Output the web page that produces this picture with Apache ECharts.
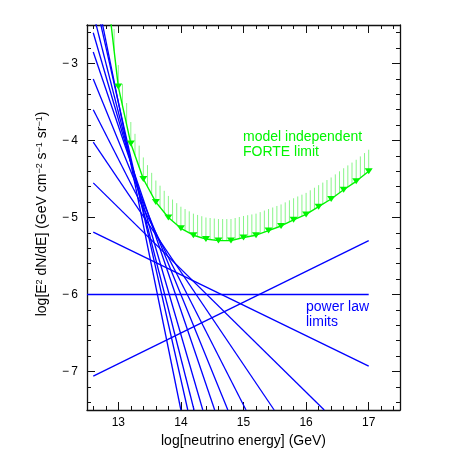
<!DOCTYPE html>
<html>
<head>
<meta charset="utf-8">
<script src="https://cdn.jsdelivr.net/npm/echarts@6/dist/echarts.min.js"></script>
<style>
  html, body { margin: 0; padding: 0; background: #fff; }
  #chart { width: 467px; height: 467px; }
</style>
</head>
<body>
<div id="chart"></div>
<script>
// FORTE model independent limit (marker points)
const forteX = [12.8, 13.0, 13.2, 13.4, 13.6, 13.8, 14.0, 14.2, 14.4, 14.6, 14.8,
                15.0, 15.2, 15.4, 15.6, 15.8, 16.0, 16.2, 16.4, 16.6, 16.8, 17.0];
const forteY = [-1.90, -3.30, -4.04, -4.50, -4.80, -5.00, -5.14, -5.23, -5.28, -5.30, -5.30,
                -5.26, -5.23, -5.17, -5.11, -5.03, -4.96, -4.86, -4.76, -4.64, -4.53, -4.40];

// power law limits: one straight line each, start -> end
const lawX0 = [12.6, 12.6, 12.6, 12.6, 12.6, 12.6, 12.6, 12.6, 12.6, 12.6, 12.5, 12.6];
const lawY0 = [-1.90, -2.06, -2.35, -2.60, -2.85, -3.20, -3.60, -4.02, -4.55, -5.19, -6.00, -7.06];
const lawX1 = [14.00, 14.11, 14.21, 14.35, 14.54, 14.75, 15.04, 15.49, 16.29, 17.0, 17.0, 17.0];
const lawY1 = [-7.50, -7.50, -7.50, -7.50, -7.50, -7.50, -7.50, -7.50, -7.50, -6.93, -6.00, -5.30];

// ticks
const xMajor = [13, 14, 15, 16, 17];
const yMajor = [-7, -6, -5, -4, -3];
const xMinor = [];
for (let v = 12.6; v < 17.45; v += 0.2) {
  const r = Math.round(v * 10) / 10;
  if (Math.abs(r - Math.round(r)) > 0.01) xMinor.push(r);
}
const yMinor = [];
for (let v = -7.4; v < -2.55; v += 0.2) {
  const r = Math.round(v * 10) / 10;
  if (Math.abs(r - Math.round(r)) > 0.01) yMinor.push(r);
}

const FONT = '"Liberation Sans", Arial, sans-serif';
const BLUE = '#0000ff';
const GREEN = '#00f500';
const HATCH = '#88f588';
const hatchLen = 0.28;
const hatchPerStep = 3;

const chart = echarts.init(document.getElementById('chart'), null, { renderer: 'canvas' });

// "-3" -> "− 3"
const minus = v => String(v).replace('-', '\u2212\u2009');

// one frame axis (major or minor ticks on one side)
function frameAxis(dim, position, ticks, tickLen, withLine, withLabels, extra) {
  const isX = dim === 'x';
  return Object.assign({
    type: 'value',
    position: position,
    min: isX ? 12.5 : -7.5,
    max: isX ? 17.5 : -2.5,
    axisLine: { show: withLine, onZero: false, lineStyle: { color: '#111', width: 1.3 } },
    axisTick: { show: true, inside: true, length: tickLen, customValues: ticks,
                lineStyle: { color: '#111', width: 1 } },
    axisLabel: { show: withLabels, customValues: ticks, color: '#000', fontSize: 12,
                 fontFamily: FONT, margin: isX ? 7 : 9, formatter: minus },
    splitLine: { show: false }
  }, extra || {});
}

const series = [];

// hatching above the FORTE limit
series.push({
  type: 'custom',
  clip: true,
  z: 1,
  data: forteX.map((x, i) => [x, forteY[i]]),
  renderItem: function (params, api) {
    const i = params.dataIndex;
    const last = i === forteX.length - 1;
    const children = [];
    const n = last ? 1 : hatchPerStep;
    for (let k = 0; k < n; k++) {
      const t = k / hatchPerStep;
      const x = last ? forteX[i] : forteX[i] + t * (forteX[i + 1] - forteX[i]);
      const y = last ? forteY[i] : forteY[i] + t * (forteY[i + 1] - forteY[i]);
      const p0 = api.coord([x, y]);
      const p1 = api.coord([x, y + hatchLen]);
      children.push({
        type: 'line',
        shape: { x1: p0[0], y1: p0[1], x2: p1[0], y2: p1[1] },
        style: { stroke: HATCH, lineWidth: 1 }
      });
    }
    return { type: 'group', children: children };
  }
});

// power law lines
for (let i = 0; i < lawX0.length; i++) {
  series.push({
    type: 'line',
    clip: true,
    z: 2,
    symbol: 'none',
    silent: true,
    lineStyle: { color: BLUE, width: 1.3 },
    data: [[lawX0[i], lawY0[i]], [lawX1[i], lawY1[i]]]
  });
}

// FORTE limit curve with markers
series.push({
  type: 'line',
  clip: true,
  z: 3,
  symbol: 'triangle',
  symbolRotate: 180,
  symbolSize: [8, 6],
  lineStyle: { color: GREEN, width: 1.4 },
  itemStyle: { color: GREEN },
  data: forteX.map((x, i) => [x, forteY[i]])
});

chart.setOption({
  animation: false,
  backgroundColor: '#fff',
  grid: { left: 87, right: 67, top: 25, bottom: 57 },
  xAxis: [
    frameAxis('x', 'bottom', xMajor, 8, true, true, {
      name: 'log[neutrino energy] (GeV)',
      nameLocation: 'middle',
      nameGap: 22,
      nameTextStyle: { color: '#000', fontSize: 14, fontFamily: FONT }
    }),
    frameAxis('x', 'bottom', xMinor, 4, false, false),
    frameAxis('x', 'top', xMajor, 8, true, false),
    frameAxis('x', 'top', xMinor, 4, false, false)
  ],
  yAxis: [
    frameAxis('y', 'left', yMajor, 8, true, true),
    frameAxis('y', 'left', yMinor, 4, false, false),
    frameAxis('y', 'right', yMajor, 8, true, false),
    frameAxis('y', 'right', yMinor, 4, false, false)
  ],
  graphic: [
    { type: 'text', x: 42, y: 214, rotation: Math.PI / 2,
      style: {
        text: 'log[E{sup|2} dN/dE] (GeV cm{sup|\u22122} s{sup|\u22121} sr{sup|\u22121})',
        fill: '#000', font: '14px ' + FONT, align: 'center', verticalAlign: 'middle',
        rich: { sup: { fontSize: 9, fontFamily: FONT, fill: '#000', verticalAlign: 'top' } }
      } },
    { type: 'text', x: 243, y: 137, style: { text: 'model independent', fill: GREEN,
      font: '14px ' + FONT, verticalAlign: 'middle' } },
    { type: 'text', x: 243, y: 152, style: { text: 'FORTE limit', fill: GREEN,
      font: '14px ' + FONT, verticalAlign: 'middle' } },
    { type: 'text', x: 306, y: 307, style: { text: 'power law', fill: BLUE,
      font: '14px ' + FONT, verticalAlign: 'middle' } },
    { type: 'text', x: 306, y: 322, style: { text: 'limits', fill: BLUE,
      font: '14px ' + FONT, verticalAlign: 'middle' } }
  ],
  series: series
});
</script>
</body>
</html>
